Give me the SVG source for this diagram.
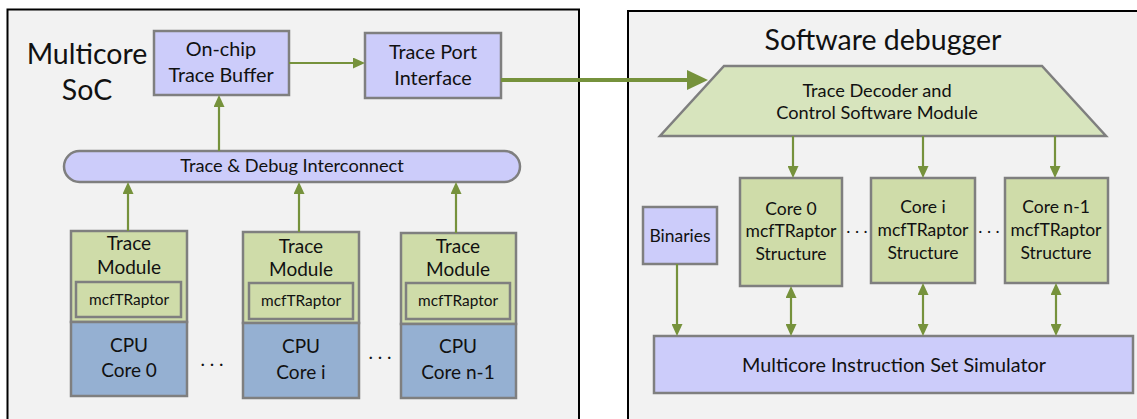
<svg xmlns="http://www.w3.org/2000/svg" width="1137" height="419" viewBox="0 0 1137 419">
  <style>
    text { font-family: Lato, "Open Sans", "Liberation Sans", sans-serif; fill: #111; text-anchor: middle; }
    .panel { fill: #f2f2f2; stroke: #000; stroke-width: 2; }
    .box { stroke: #7f7f7f; stroke-width: 2.5; }
    .lav { fill: #ccccfa; }
    .grn { fill: #cfdca9; }
    .lgrn { fill: #d7e4bd; }
    .cpu { fill: #95b0d2; }
    .title { font-size: 28.5px; }
    .t20 { font-size: 19.8px; }
    .t19 { font-size: 19px; }
    .t18 { font-size: 18.2px; }
    .t17 { font-size: 17.5px; }
    .t15 { font-size: 15.4px; }
    .wire { fill: none; stroke: #76923c; stroke-width: 2.2; }
    .bus { fill: none; stroke: #76923c; stroke-width: 4; }
  </style>
  <defs>
    <marker id="arr" markerUnits="userSpaceOnUse" markerWidth="12" markerHeight="11" refX="0" refY="5.5" orient="auto-start-reverse">
      <path d="M0,0 L12,5.5 L0,11 z" fill="#76923c"/>
    </marker>
    <marker id="bigarr" markerUnits="userSpaceOnUse" markerWidth="21" markerHeight="20" refX="0" refY="10" orient="auto">
      <path d="M0,0 L21,10 L0,20 z" fill="#76923c"/>
    </marker>
  </defs>

  <!-- panels -->
  <rect class="panel" x="7.5" y="9.5" width="571.5" height="420"/>
  <rect class="panel" x="628" y="11" width="520" height="420"/>
  <text class="title" x="87" y="64">Multicore</text>
  <text class="title" x="87" y="100">SoC</text>
  <text class="title" x="883" y="50">Software debugger</text>

  <!-- SoC side -->
  <g id="trace-buffer">
    <rect class="box lav" x="154" y="31" width="135" height="64"/>
    <text class="t20" x="221" y="56">On-chip</text>
    <text class="t20" x="221" y="82">Trace Buffer</text>
  </g>
  <g id="trace-port">
    <rect class="box lav" x="365" y="33" width="136" height="65"/>
    <text class="t20" x="433" y="59">Trace Port</text>
    <text class="t20" x="433" y="85">Interface</text>
  </g>
  <g id="interconnect">
    <rect class="box lav" x="64" y="151" width="456" height="31" rx="15.5"/>
    <text class="t18" x="292" y="172">Trace &amp; Debug Interconnect</text>
  </g>

  <g id="core-0">
    <rect class="box grn" x="71" y="231" width="116" height="91"/>
    <rect class="box grn" x="76" y="282" width="105" height="35"/>
    <rect class="box cpu" x="71" y="322" width="116" height="74"/>
    <text class="t19" x="129" y="250">Trace</text>
    <text class="t19" x="129" y="274">Module</text>
    <text class="t15" x="129" y="305">mcfTRaptor</text>
    <text class="t19" x="129" y="352">CPU</text>
    <text class="t19" x="129" y="377">Core 0</text>
  </g>
  <g id="core-i">
    <rect class="box grn" x="243" y="232" width="116" height="91"/>
    <rect class="box grn" x="249" y="283" width="104" height="36"/>
    <rect class="box cpu" x="243" y="323" width="116" height="75"/>
    <text class="t19" x="301" y="253">Trace</text>
    <text class="t19" x="301" y="276">Module</text>
    <text class="t15" x="301" y="306">mcfTRaptor</text>
    <text class="t19" x="301" y="353">CPU</text>
    <text class="t19" x="301" y="379">Core i</text>
  </g>
  <g id="core-n1">
    <rect class="box grn" x="401" y="233" width="115" height="91"/>
    <rect class="box grn" x="406" y="283" width="104" height="36"/>
    <rect class="box cpu" x="401" y="324" width="115" height="74"/>
    <text class="t19" x="458" y="253">Trace</text>
    <text class="t19" x="458" y="276">Module</text>
    <text class="t15" x="458" y="306">mcfTRaptor</text>
    <text class="t19" x="458" y="353">CPU</text>
    <text class="t19" x="458" y="379">Core n-1</text>
  </g>
  <text class="t19" x="212" y="366">. . .</text>
  <text class="t19" x="380" y="359">. . .</text>

  <!-- debugger side -->
  <g id="decoder">
    <polygon class="box lgrn" points="724,66 1042,66 1106,136 660,136"/>
    <text class="t18" x="877" y="97">Trace Decoder and</text>
    <text class="t18" x="877" y="119">Control Software Module</text>
  </g>
  <g id="struct-0">
    <rect class="box grn" x="740" y="178" width="102" height="108"/>
    <text class="t17" x="791" y="215">Core 0</text>
    <text class="t17" x="791" y="237">mcfTRaptor</text>
    <text class="t17" x="791" y="260">Structure</text>
  </g>
  <g id="struct-i">
    <rect class="box grn" x="871" y="178" width="104" height="105"/>
    <text class="t17" x="923" y="213">Core i</text>
    <text class="t17" x="923" y="236">mcfTRaptor</text>
    <text class="t17" x="923" y="259">Structure</text>
  </g>
  <g id="struct-n1">
    <rect class="box grn" x="1005" y="178" width="103" height="105"/>
    <text class="t17" x="1056" y="213">Core n-1</text>
    <text class="t17" x="1056" y="236">mcfTRaptor</text>
    <text class="t17" x="1056" y="259">Structure</text>
  </g>
  <text class="t17" x="857" y="233">. . .</text>
  <text class="t17" x="989" y="233">. . .</text>
  <g id="binaries">
    <rect class="box lav" x="643" y="207" width="74" height="57"/>
    <text class="t17" x="680" y="242">Binaries</text>
  </g>
  <g id="simulator">
    <rect class="box lav" x="654" y="336" width="479" height="57"/>
    <text class="t20" x="894" y="372">Multicore Instruction Set Simulator</text>
  </g>

  <!-- connectors -->
  <g id="connectors">
    <path class="wire" d="M289,63 H353" marker-end="url(#arr)"/>
    <path class="wire" d="M219,151 V107" marker-end="url(#arr)"/>
    <path class="wire" d="M128,231 V194" marker-end="url(#arr)"/>
    <path class="wire" d="M299,232 V194" marker-end="url(#arr)"/>
    <path class="wire" d="M456,233 V194" marker-end="url(#arr)"/>
    <path class="bus" d="M501,80 H687" marker-end="url(#bigarr)"/>
    <path class="wire" d="M793,136 V166" marker-end="url(#arr)"/>
    <path class="wire" d="M923,136 V166" marker-end="url(#arr)"/>
    <path class="wire" d="M1055,136 V166" marker-end="url(#arr)"/>
    <path class="wire" d="M677,264 V324" marker-end="url(#arr)"/>
    <path class="wire" d="M791,298 V324" marker-start="url(#arr)" marker-end="url(#arr)"/>
    <path class="wire" d="M923,295 V324" marker-start="url(#arr)" marker-end="url(#arr)"/>
    <path class="wire" d="M1056,295 V324" marker-start="url(#arr)" marker-end="url(#arr)"/>
  </g>
</svg>
